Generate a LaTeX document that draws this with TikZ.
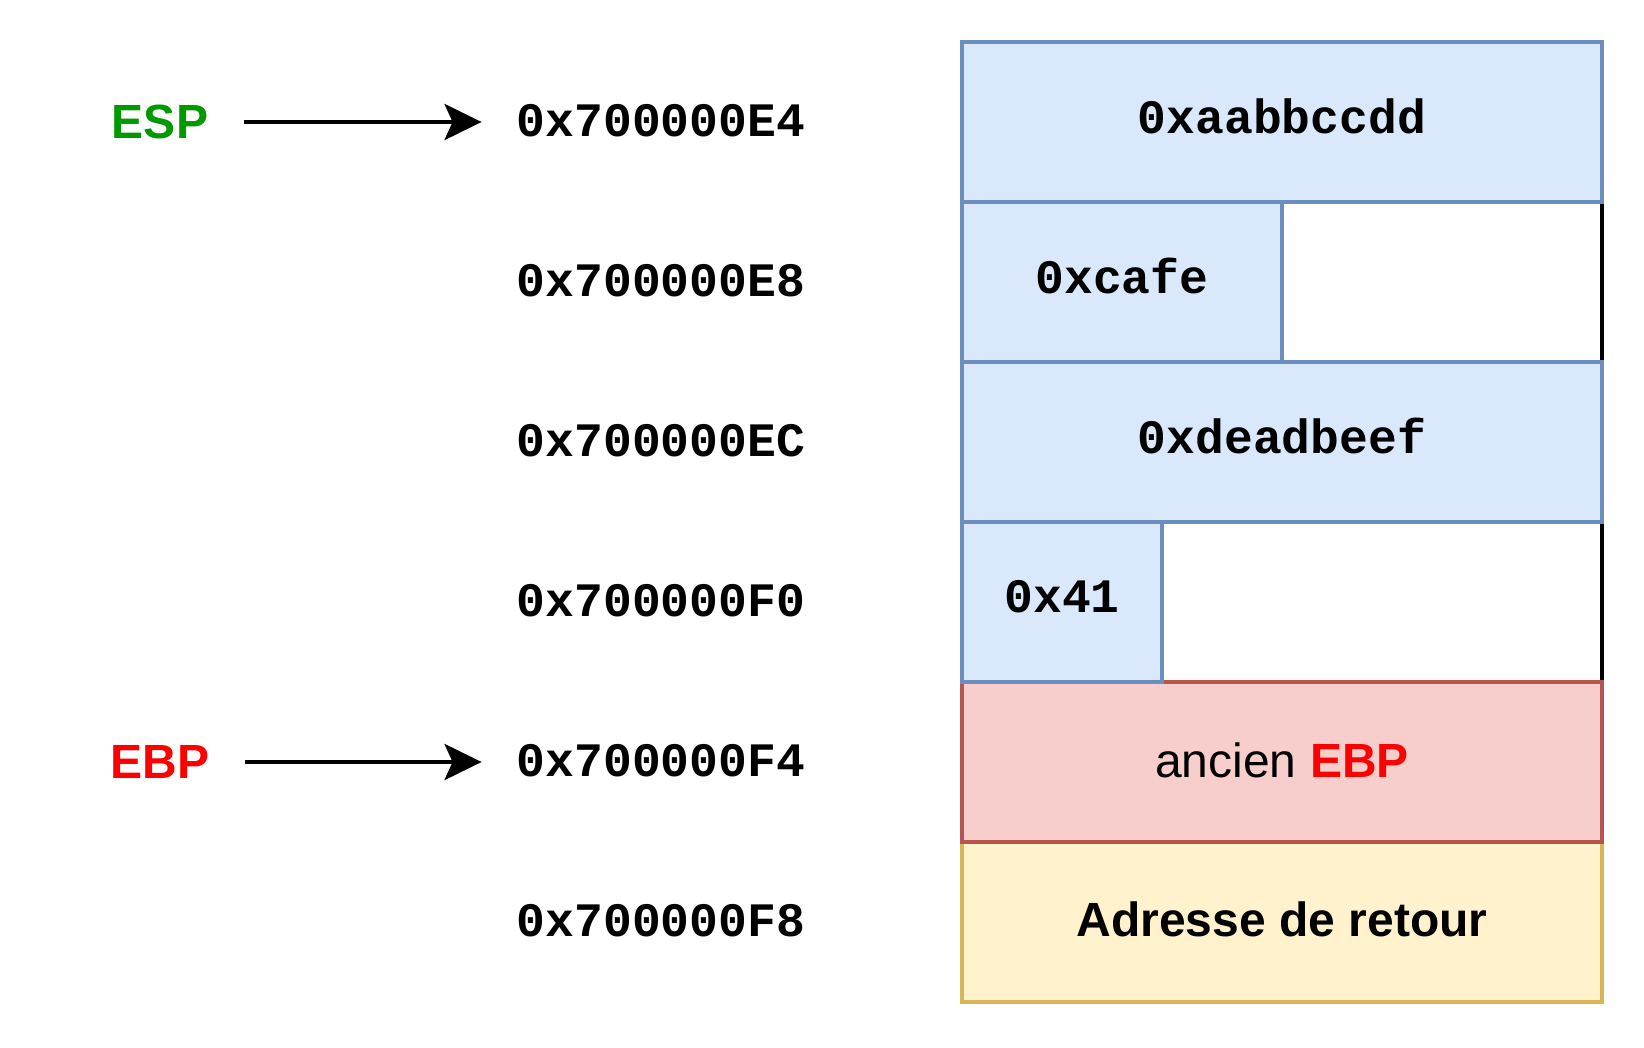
\documentclass[tikz,border=0pt]{standalone}
\usepackage{fontspec}
\setmainfont{Liberation Sans}
\setmonofont{Liberation Mono}
\usepackage{tikz}
\usetikzlibrary{arrows.meta, positioning}

\definecolor{blueFill}{HTML}{DAE8FC}
\definecolor{blueLine}{HTML}{6C8EBF}
\definecolor{redFill}{HTML}{F8CECC}
\definecolor{redLine}{HTML}{B85450}
\definecolor{yellowFill}{HTML}{FFF2CC}
\definecolor{yellowLine}{HTML}{D6B656}
\definecolor{espGreen}{HTML}{009900}
\definecolor{ebpRed}{HTML}{FF0000}

\begin{document}
\begin{tikzpicture}[
        x=0.5pt, y=-0.5pt,
        cell/.style={
            line width=2pt,
            outer sep=0pt,
            inner sep=0pt,
            minimum height=80pt,
            anchor=north west,
            font=\fontsize{24}{28}\selectfont\ttfamily\bfseries
        },
        bluecell/.style={cell, draw=blueLine, fill=blueFill, text depth=6pt},
        redcell/.style={cell, draw=redLine, fill=redFill, text depth=2pt,
            font=\fontsize{24}{28}\selectfont},
        yellowcell/.style={cell, draw=yellowLine, fill=yellowFill, text depth=2.5pt,
            font=\fontsize{24}{28}\selectfont\bfseries},
        addr/.style={inner sep=0pt, text depth=2pt, font=\fontsize{24}{28}\selectfont\ttfamily\bfseries},
        reg/.style={inner sep=0pt, font=\fontsize{24}{28}\selectfont\bfseries},
        ptr/.style={line width=2pt, -{Stealth[length=18.5pt, width=18pt, inset=4pt]},
            shorten <=17.75pt, shorten >=17.5pt},
        edge/.style={line width=2pt, shorten <=1pt, shorten >=1pt}
    ]
        \useasboundingbox (0,0) rectangle (1644,1048);

        % la pile
        \node[bluecell, minimum width=320pt] (aabb) at (962,42) {0xaabbccdd};
        \node[cell, minimum width=160pt] (cafegap) at (aabb.south) {};
        \draw[edge] (cafegap.north east) -- (cafegap.south east);
        \node[bluecell, minimum width=160pt] (cafe) at (aabb.south west) {0xcafe};
        \node[bluecell, minimum width=320pt] (dead) at (cafe.south west) {0xdeadbeef};
        \node[cell, minimum width=320pt] (row4) at (dead.south west) {};
        \draw[edge] (row4.north east) -- (row4.south east);
        \node[yellowcell, minimum width=320pt] (retour) at ([yshift=-80pt]row4.south west) {Adresse de retour};
        \node[redcell, minimum width=320pt] (ancien) at (row4.south west) {ancien \textcolor{ebpRed}{\bfseries EBP}};
        \node[bluecell, minimum width=100pt] (x41) at (row4.north west) {0x41};

        % adresses
        \node[addr] (e4) at (661,122) {0x700000E4};
        \node[addr] (e8) at (661,282) {0x700000E8};
        \node[addr] (ec) at (661,442) {0x700000EC};
        \node[addr] (f0) at (661,602) {0x700000F0};
        \node[addr] (f4) at (661,762) {0x700000F4};
        \node[addr] (f8) at (661,922) {0x700000F8};

        % registres
        \node[reg, text=espGreen] (esp) at (160,122) {ESP};
        \node[reg, text=ebpRed] (ebp) at (160,762) {EBP};
        \draw[ptr] (esp) -- (e4);
        \draw[ptr] (ebp) -- (f4);
    \end{tikzpicture}
\end{document}
